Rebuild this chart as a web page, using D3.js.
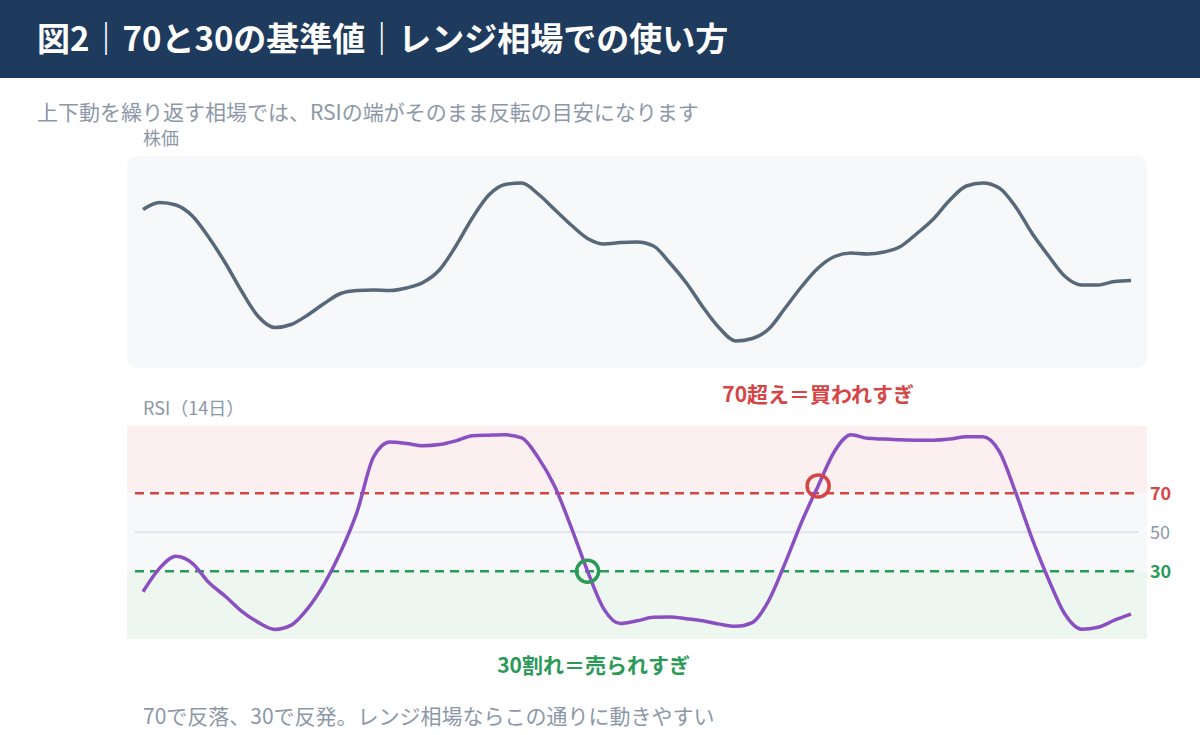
<!DOCTYPE html>
<html>
<head>
<meta charset="utf-8">
<script src="https://cdn.jsdelivr.net/npm/d3@7"></script>
<style>
  body { margin: 0; background: #ffffff; }
  svg { display: block; font-family: "Noto Sans CJK JP", "Noto Sans", sans-serif; }
</style>
</head>
<body>
<svg id="vis0" width="1200" height="735"></svg>
<script>
// 株価 (sampled every step along the range move)
var price = [1105, 1119, 1114, 1092, 1049, 998, 941, 891, 869, 875,
             894, 917, 937, 943, 944, 943, 948, 959, 984, 1032,
             1088, 1134, 1155, 1158, 1136, 1105, 1074, 1047, 1036, 1039,
             1040, 1032, 998, 958, 910, 868, 842, 847, 866, 908,
             951, 988, 1011, 1018, 1016, 1020, 1031, 1057, 1086, 1124,
             1152, 1158, 1148, 1110, 1057, 1012, 971, 954, 954, 961, 963];

// RSI (14日)
var rsi = [19.5, 31.5, 37.7, 34.1, 24.2, 17.2, 9.5, 3.8, 0.2, 2.4,
           10.9, 23.4, 39.9, 60.5, 88.6, 96.3, 95.5, 94.4, 95.0, 96.9,
           99.5, 99.8, 100, 98.4, 88.3, 73.6, 52.7, 30.0, 10.5, 3.2,
           4.6, 6.4, 6.6, 5.7, 4.6, 2.9, 1.8, 3.7, 15.0, 34.3,
           55.3, 73.8, 91.6, 100, 98.2, 97.8, 97.4, 97.2, 97.2, 97.8,
           99.0, 99.0, 91.5, 70.3, 46.6, 25.7, 7.8, 0.3, 1.3, 4.9, 8.0];

var levels = [70, 50, 30];
var overbought = 70, oversold = 30;
var markOver = 41, markUnder = 27;   // indexes of the circled points

var title = "図2｜70と30の基準値｜レンジ相場での使い方";
var subtitle = "上下動を繰り返す相場では、RSIの端がそのまま反転の目安になります";
var note = "70で反落、30で反発。レンジ相場ならこの通りに動きやすい";

var red = "#d64545", green = "#2b9a58", grey = "#8c98a8";

var vis = d3.select("#vis0");

// header
vis.append("rect").attr("x", 0).attr("y", 0).attr("width", 1200).attr("height", 78)
    .attr("fill", "#1e3a5c");
vis.append("text").attr("x", 37).attr("y", 51)
    .attr("fill", "#ffffff").attr("font-size", 33).attr("font-weight", 700)
    .text(title);
vis.append("text").attr("x", 37).attr("y", 120)
    .attr("fill", grey).attr("font-size", 21)
    .text(subtitle);

var x = d3.scaleLinear().domain([0, price.length - 1]).range([143, 1131]);

/*
  Price panel
*/
var yP = d3.scaleLinear().domain([800, 1200]).range([362, 162]);

vis.append("text").attr("x", 143).attr("y", 145)
    .attr("fill", grey).attr("font-size", 18)
    .text("株価");

vis.append("rect")
    .attr("x", 127).attr("y", 156).attr("width", 1020).attr("height", 212)
    .attr("rx", 10).attr("fill", "#f7f8fa");

vis.append("path")
    .datum(price)
    .attr("fill", "none")
    .attr("stroke", "#566879")
    .attr("stroke-width", 3.5)
    .attr("stroke-linejoin", "round")
    .attr("d", d3.line().curve(d3.curveMonotoneX)
        .x(function(d, i) { return x(i); }).y(function(d) { return yP(d); }));

/*
  RSI panel
*/
var yR = d3.scaleLinear().domain([0, 100]).range([629.8, 434.8]);
var rTop = yR(100) - 9, rBottom = yR(0) + 9;

vis.append("text").attr("x", 143).attr("y", 415)
    .attr("fill", grey).attr("font-size", 18)
    .text("RSI（14日）");

vis.append("rect").attr("x", 127).attr("y", rTop).attr("width", 1020)
    .attr("height", yR(overbought) - rTop).attr("fill", "#fcefef");
vis.append("rect").attr("x", 127).attr("y", yR(overbought)).attr("width", 1020)
    .attr("height", yR(oversold) - yR(overbought)).attr("fill", "#f7f8fa");
vis.append("rect").attr("x", 127).attr("y", yR(oversold)).attr("width", 1020)
    .attr("height", rBottom - yR(oversold)).attr("fill", "#eef6f0");

// mid line
vis.append("line")
    .attr("x1", 135).attr("x2", 1139)
    .attr("y1", yR(50)).attr("y2", yR(50))
    .attr("stroke", "#e1e6ed").attr("stroke-width", 2);

// 70 / 30 dashed levels
[[overbought, red], [oversold, green]].forEach(function(l) {
  vis.append("line")
      .attr("x1", 135).attr("x2", 1139)
      .attr("y1", yR(l[0])).attr("y2", yR(l[0]))
      .attr("stroke", l[1]).attr("stroke-width", 2.5)
      .attr("stroke-dasharray", "9,6");
});

vis.append("path")
    .datum(rsi)
    .attr("fill", "none")
    .attr("stroke", "#8a50c2")
    .attr("stroke-width", 3.5)
    .attr("stroke-linejoin", "round")
    .attr("d", d3.line().curve(d3.curveMonotoneX)
        .x(function(d, i) { return x(i); }).y(function(d) { return yR(d); }));

// right axis labels
var axis = vis.append("g")
    .attr("transform", "translate(1147,0)")
    .call(d3.axisRight(yR).tickValues(levels).tickSize(0).tickPadding(3));
axis.select(".domain").remove();
axis.selectAll("text")
    .attr("font-family", "\"Noto Sans CJK JP\", sans-serif")
    .attr("font-size", 18)
    .attr("font-weight", function(d) { return d === 50 ? 400 : 700; })
    .attr("fill", function(d) { return d === 70 ? red : d === 30 ? green : grey; });

// markers
vis.append("circle")
    .attr("cx", x(markOver)).attr("cy", yR(rsi[markOver]))
    .attr("r", 11).attr("fill", "none").attr("stroke", red).attr("stroke-width", 3.5);
vis.append("circle")
    .attr("cx", x(markUnder)).attr("cy", yR(rsi[markUnder]))
    .attr("r", 11).attr("fill", "none").attr("stroke", green).attr("stroke-width", 3.5);

vis.append("text").attr("x", x(markOver)).attr("y", 402)
    .attr("text-anchor", "middle")
    .attr("fill", red).attr("font-size", 21).attr("font-weight", 700)
    .text("70超え＝買われすぎ");
vis.append("text").attr("x", x(markUnder) + 6).attr("y", 673)
    .attr("text-anchor", "middle")
    .attr("fill", green).attr("font-size", 21).attr("font-weight", 700)
    .text("30割れ＝売られすぎ");

// footnote
vis.append("text").attr("x", 143).attr("y", 724)
    .attr("fill", grey).attr("font-size", 21)
    .text(note);
</script>
</body>
</html>
